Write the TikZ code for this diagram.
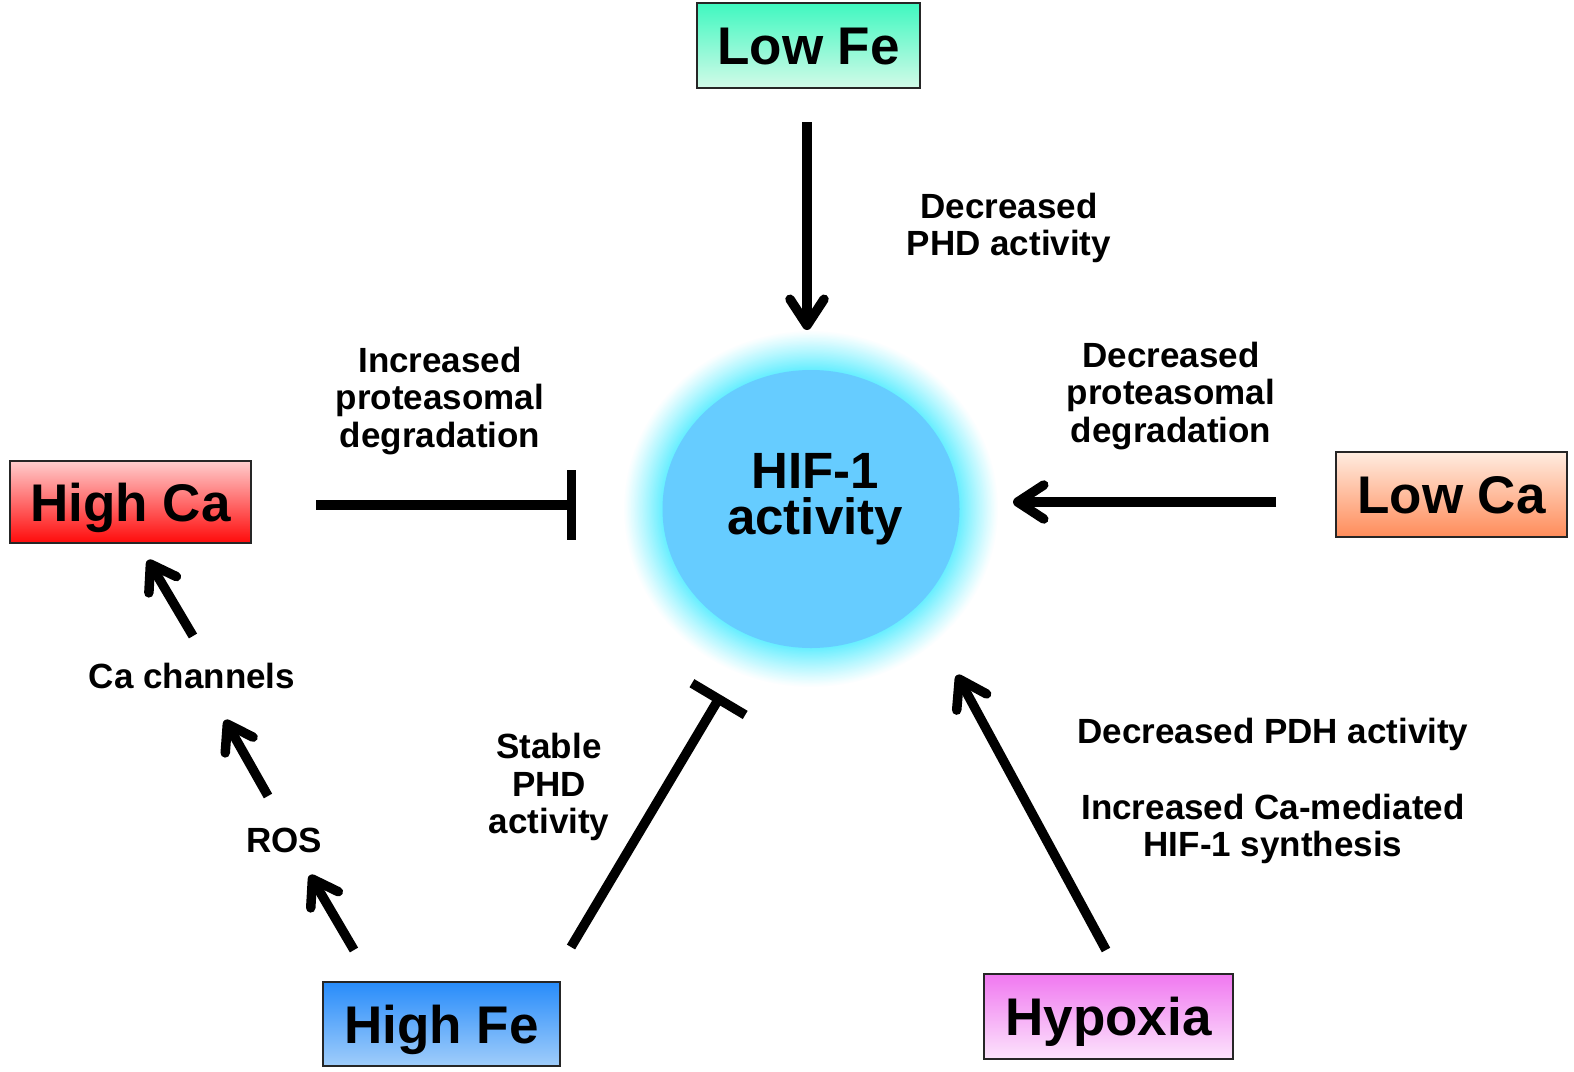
\documentclass[tikz,border=0pt]{standalone}
\usepackage{fontspec}
\setmainfont{Liberation Sans}
\usetikzlibrary{arrows.meta,shapes.geometric}
\definecolor{glowc}{RGB}{100,238,255}
\definecolor{hifc}{RGB}{102,204,255}
\definecolor{lowfeT}{RGB}{64,248,192}
\definecolor{lowfeB}{RGB}{210,250,232}
\definecolor{highcaT}{RGB}{255,205,205}
\definecolor{highcaB}{RGB}{255,10,10}
\definecolor{lowcaT}{RGB}{255,236,224}
\definecolor{lowcaB}{RGB}{255,140,90}
\definecolor{highfeT}{RGB}{40,140,250}
\definecolor{highfeB}{RGB}{160,205,250}
\definecolor{hypT}{RGB}{240,120,240}
\definecolor{hypB}{RGB}{252,228,252}
\begin{document}
\begin{tikzpicture}[x=1pt,y=-1pt,
  box/.style={draw=black!85, line width=1.2pt, rectangle, inner sep=0pt,
    font=\fontsize{53}{56}\selectfont\bfseries, text height=38pt, text depth=0pt},
  lbl/.style={align=center, inner sep=0pt, font=\fontsize{35}{37.5}\selectfont\bfseries},
  arr/.style={line width=9.5pt, -{Straight Barb[length=26pt,width=34pt,line width=9.5pt,round]}},
  sarr/.style={line width=9.5pt, -{Straight Barb[length=24pt,width=32pt,line width=9.5pt,round]}},
  inh/.style={line width=9.5pt, -{Bar[width=70pt,line width=9.5pt]}}]
\fill[white] (0,0) rectangle (1574,1071);
\useasboundingbox (0,0) rectangle (1574,1071);
% central glow and circle
\foreach \i in {0,...,30}{
  \pgfmathsetmacro{\rx}{188-\i*1.33}
  \pgfmathsetmacro{\ry}{179-\i*1.33}
  \pgfmathsetmacro{\pc}{(\i/30)^1.1*100}
  \fill[glowc!\pc!white] (811,509) ellipse [x radius=\rx, y radius=\ry];
}
\node[ellipse, fill=hifc, minimum width=297pt, minimum height=278pt, inner sep=0pt] (hif) at (811,509) {};
\node[align=center, inner sep=0pt, font=\fontsize{51}{46}\selectfont\bfseries] (hiftext) at (815,499) {HIF-1\\activity};
% boxes
\node[box, top color=lowfeT, bottom color=lowfeB, minimum width=223pt, minimum height=85pt] (lowfe) at (808.5,45.5) {Low Fe};
\node[box, top color=highcaT, bottom color=highcaB, minimum width=241pt, minimum height=82pt] (highca) at (130.5,502) {High Ca};
\node[box, top color=lowcaT, bottom color=lowcaB, minimum width=231pt, minimum height=85pt] (lowca) at (1451.5,494.5) {Low Ca};
\node[box, top color=highfeT, bottom color=highfeB, minimum width=237pt, minimum height=84pt] (highfe) at (441.5,1024) {High Fe};
\node[box, top color=hypT, bottom color=hypB, minimum width=249pt, minimum height=85pt] (hypoxia) at (1108.5,1016.5) {Hypoxia};
% labels
\node[lbl] (l1) at (1009,228) {Decreased\\PHD activity};
\node[lbl] (l2) at (440,401) {Increased\\proteasomal\\degradation};
\node[lbl] (l3) at (1171,396) {Decreased\\proteasomal\\degradation};
\node[lbl] (cach) at (192,676) {Ca channels};
\node[lbl] (ros) at (284,840) {ROS};
\node[lbl] (l4) at (549,787) {Stable\\PHD\\activity};
\node[lbl] (l5) at (1273,734) {Decreased PDH activity};
\node[lbl] (l6) at (1273,829) {Increased Ca-mediated\\HIF-1 synthesis};
% connector end points
\coordinate (lfeA) at (807,122);  \coordinate (lfeB) at (807,330);
\coordinate (lcaA) at (1276,502); \coordinate (lcaB) at (1013,502);
\coordinate (hypA) at (1106,950); \coordinate (hypB) at (957,675);
\coordinate (hcaA) at (316,505);  \coordinate (hcaB) at (576,505);
\coordinate (hfeA) at (571,947);  \coordinate (hfeB) at (721,695);
\coordinate (rosA) at (354,950);  \coordinate (rosB) at (310,875);
\coordinate (cchA) at (268,796);  \coordinate (cchB) at (225,720);
\coordinate (hcA) at (193,636);   \coordinate (hcB) at (148,560);
% connectors
\draw[arr] (lfeA) -- (lfeB);
\draw[arr] (lcaA) -- (lcaB);
\draw[arr] (hypA) -- (hypB);
\draw[inh] (hcaA) -- (hcaB);
\draw[line width=9.5pt, -{Bar[width=62pt,line width=9.5pt]}] (hfeA) -- (hfeB);
\draw[sarr] (rosA) -- (rosB);
\draw[sarr] (cchA) -- (cchB);
\draw[sarr] (hcA) -- (hcB);
\end{tikzpicture}
\end{document}
